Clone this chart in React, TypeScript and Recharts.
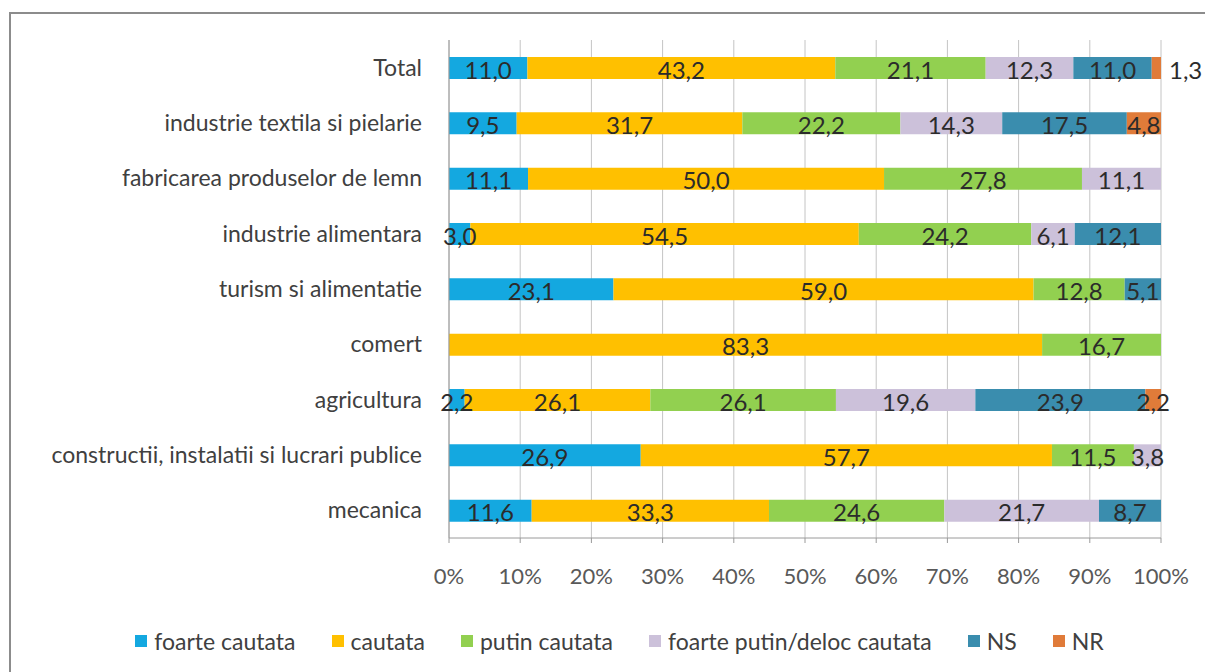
import React from "react";
import { BarChart, Bar, XAxis, YAxis, CartesianGrid, Legend, LabelList } from "recharts";

const categories = [
  "Total",
  "industrie textila si pielarie",
  "fabricarea produselor de lemn",
  "industrie alimentara",
  "turism si alimentatie",
  "comert",
  "agricultura",
  "constructii, instalatii si lucrari publice",
  "mecanica",
];

const foarteCautata = [11.0, 9.5, 11.1, 3.0, 23.1, 0, 2.2, 26.9, 11.6];
const cautata = [43.2, 31.7, 50.0, 54.5, 59.0, 83.3, 26.1, 57.7, 33.3];
const putinCautata = [21.1, 22.2, 27.8, 24.2, 12.8, 16.7, 26.1, 11.5, 24.6];
const foartePutin = [12.3, 14.3, 11.1, 6.1, 0, 0, 19.6, 3.8, 21.7];
const ns = [11.0, 17.5, 0, 12.1, 5.1, 0, 23.9, 0, 8.7];
const nr = [1.3, 4.8, 0, 0, 0, 0, 2.2, 0, 0];

const xTicks = [0, 0.1, 0.2, 0.3, 0.4, 0.5, 0.6, 0.7, 0.8, 0.9, 1];
const boundaryTicks = [0, 1, 2, 3, 4, 5, 6, 7, 8, 9];

const series = [
  { key: "fc", name: "foarte cautata", color: "#14A8E0", values: foarteCautata },
  { key: "c", name: "cautata", color: "#FFC000", values: cautata },
  { key: "pc", name: "putin cautata", color: "#92D050", values: putinCautata },
  { key: "fp", name: "foarte putin/deloc cautata", color: "#CCC1DA", values: foartePutin },
  { key: "ns", name: "NS", color: "#3A8DAE", values: ns },
  { key: "nr", name: "NR", color: "#E07B39", values: nr },
];

const data = categories.map((name, i) => {
  const row: Record<string, any> = { name };
  series.forEach((s) => (row[s.key] = s.values[i]));
  return row;
});

const FONT = "Lato, 'Open Sans', sans-serif";

const fmt = (v: number) => v.toFixed(1).replace(".", ",");

// value inside the segment; segments too thin get the number just to the right
function ValueLabel(props: any) {
  const { x, y, width, height, value } = props;
  if (!value) return null;
  const small = width < 12;
  return (
    <text
      x={small ? x + width + 8 : x + width / 2}
      y={y + height / 2 + 1}
      textAnchor={small ? "start" : "middle"}
      dominantBaseline="central"
      fontFamily={FONT}
      fontSize={24}
      fill="#2b2b2b"
    >
      {fmt(value)}
    </text>
  );
}

function LegendContent() {
  return (
    <div
      style={{
        display: "flex",
        justifyContent: "center",
        alignItems: "center",
        gap: 36,
        height: 24,
        fontFamily: FONT,
        fontSize: 23,
        color: "#404040",
      }}
    >
      {series.map((s) => (
        <div key={s.key} style={{ display: "flex", alignItems: "center", gap: 7 }}>
          <span style={{ width: 12, height: 12, background: s.color, display: "inline-block" }} />
          <span>{s.name}</span>
        </div>
      ))}
    </div>
  );
}

export default function App() {
  return (
    <div
      style={{
        position: "fixed",
        left: 0,
        top: 0,
        width: 1205,
        height: 672,
        overflow: "hidden",
        background: "#fff",
      }}
    >
      <div
        style={{
          position: "absolute",
          left: 9,
          top: 12,
          width: 1220,
          height: 700,
          border: "2px solid #8c8c8c",
        }}
      />
      <div style={{ position: "absolute", left: 0, top: 0 }}>
        <BarChart
          width={1205}
          height={672}
          data={data}
          layout="vertical"
          stackOffset="expand"
          margin={{ top: 40, right: 44, bottom: 19, left: 10 }}
        >
          <CartesianGrid horizontal={false} stroke="#c4c4c4" />
          <XAxis
            type="number"
            domain={[0, 1]}
            ticks={xTicks}
            tickFormatter={(v: number) => `${Math.round(v * 100)}%`}
            height={91}
            tickSize={5}
            tickMargin={25}
            axisLine={{ stroke: "#9a9a9a" }}
            tickLine={{ stroke: "#9a9a9a" }}
            tick={{ fontFamily: FONT, fontSize: 22, fill: "#595959" }}
          />
          <YAxis
            yAxisId="bounds"
            type="number"
            domain={[0, 9]}
            ticks={boundaryTicks}
            width={0}
            tickSize={6}
            axisLine={false}
            tickLine={{ stroke: "#9a9a9a" }}
            tick={() => <g />}
          />
          <YAxis
            type="category"
            dataKey="name"
            width={439}
            tickLine={false}
            tickMargin={21}
            axisLine={{ stroke: "#9a9a9a" }}
            tick={{ fontFamily: FONT, fontSize: 23, fill: "#404040" }}
          />
          <Legend
            verticalAlign="bottom"
            content={() => <LegendContent />}
            wrapperStyle={{ left: 44, width: 1151, height: 24 }}
          />
          {series.map((s) => (
            <Bar
              key={s.key}
              dataKey={s.key}
              name={s.name}
              stackId="a"
              fill={s.color}
              barSize={22}
              isAnimationActive={false}
            >
              <LabelList dataKey={s.key} content={ValueLabel} />
            </Bar>
          ))}
        </BarChart>
      </div>
    </div>
  );
}
